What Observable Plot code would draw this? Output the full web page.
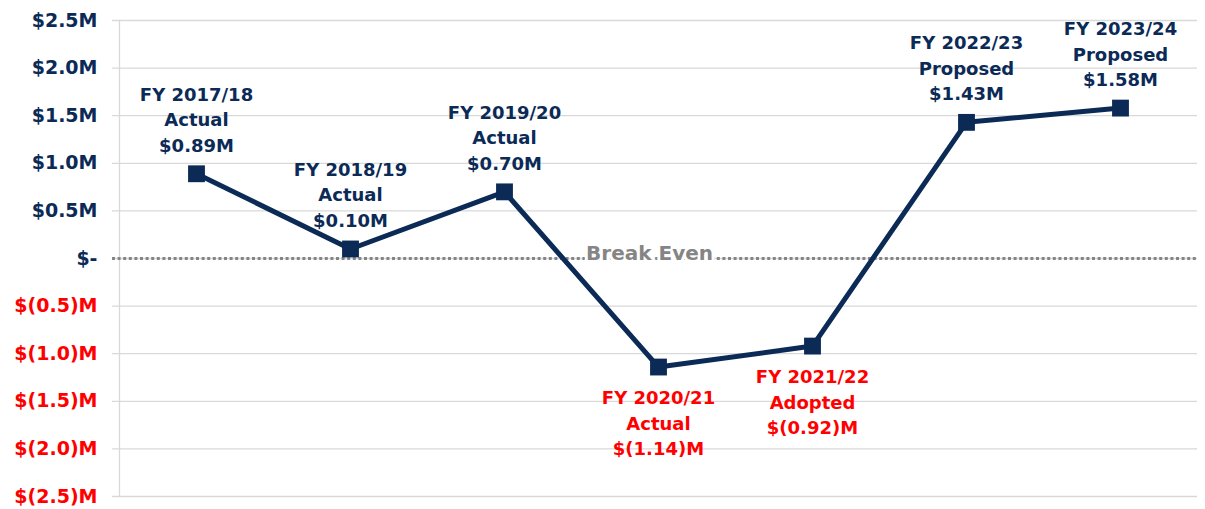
<!DOCTYPE html>
<html><head><meta charset="utf-8">
<script src="https://cdn.jsdelivr.net/npm/d3@7"></script>
<script src="https://cdn.jsdelivr.net/npm/@observablehq/plot@0.6"></script>
<style>html,body{margin:0;padding:0;background:#fff} svg{display:block}</style>
</head><body><div id="chart"></div>
<script>
const years = ["FY 2017/18", "FY 2018/19", "FY 2019/20", "FY 2020/21", "FY 2021/22", "FY 2022/23", "FY 2023/24"];
const statuses = ["Actual", "Actual", "Actual", "Actual", "Adopted", "Proposed", "Proposed"];
const values = [0.89, 0.10, 0.70, -1.14, -0.92, 1.43, 1.58];
const yTicks = [2.5, 2.0, 1.5, 1.0, 0.5, 0, -0.5, -1.0, -1.5, -2.0, -2.5];
const breakEvenLabel = "Break Even";
const breakEvenAt = "FY 2020/21";

const navy = "#0b2a56", red = "#ff0000", gray = "#858585", grid = "#d9d9d9";
const fmtTick = v => v === 0 ? "$-" : v > 0 ? `$${v.toFixed(1)}M` : `$(${(-v).toFixed(1)})M`;
const fmtVal = v => v >= 0 ? `$${v.toFixed(2)}M` : `$(${(-v).toFixed(2)})M`;
const data = years.map((y, i) => ({year: y, value: values[i], label: `${y}\n${statuses[i]}\n${fmtVal(values[i])}`}));
const pos = data.filter(d => d.value >= 0), neg = data.filter(d => d.value < 0);
const posTicks = yTicks.filter(v => v >= 0), negTicks = yTicks.filter(v => v < 0);

const chart = Plot.plot({
  width: 1205, height: 509,
  marginLeft: 119, marginRight: 8, marginTop: 20, marginBottom: 13,
  style: {fontFamily: "DejaVu Sans", fontWeight: "bold", background: "#fff"},
  x: {type: "point", domain: years, padding: 0.5, axis: null},
  y: {domain: [-2.5, 2.5], axis: null},
  marks: [
    Plot.ruleY(yTicks, {stroke: grid, strokeWidth: 1.3, insetLeft: -7}),
    Plot.frame({anchor: "left", stroke: grid, strokeWidth: 1.3}),
    Plot.ruleY([0], {stroke: gray, strokeWidth: 3, strokeDasharray: "3,2.6", insetLeft: -7}),
    Plot.text([{x: breakEvenAt, y: 0, t: breakEvenLabel}], {x: "x", y: "y", text: "t", dx: -9, dy: -5,
      fill: gray, fontSize: 20, stroke: "white", strokeWidth: 6, paintOrder: "stroke"}),
    Plot.text(posTicks, {y: d => d, text: fmtTick, frameAnchor: "left", textAnchor: "end", dx: -22, fill: navy, fontSize: 19}),
    Plot.text(negTicks, {y: d => d, text: fmtTick, frameAnchor: "left", textAnchor: "end", dx: -22, fill: red, fontSize: 19}),
    Plot.line(data, {x: "year", y: "value", stroke: navy, strokeWidth: 5}),
    Plot.dot(data, {x: "year", y: "value", symbol: "square", r: 9.5, fill: navy, stroke: "none"}),
    Plot.text(pos, {x: "year", y: "value", text: "label", lineAnchor: "bottom", lineHeight: 1.42, dy: -22, fill: navy, fontSize: 18}),
    Plot.text(neg, {x: "year", y: "value", text: "label", lineAnchor: "top", lineHeight: 1.42, dy: 19, fill: red, fontSize: 18})
  ]
});
document.getElementById("chart").appendChild(chart);
</script>
</body></html>
